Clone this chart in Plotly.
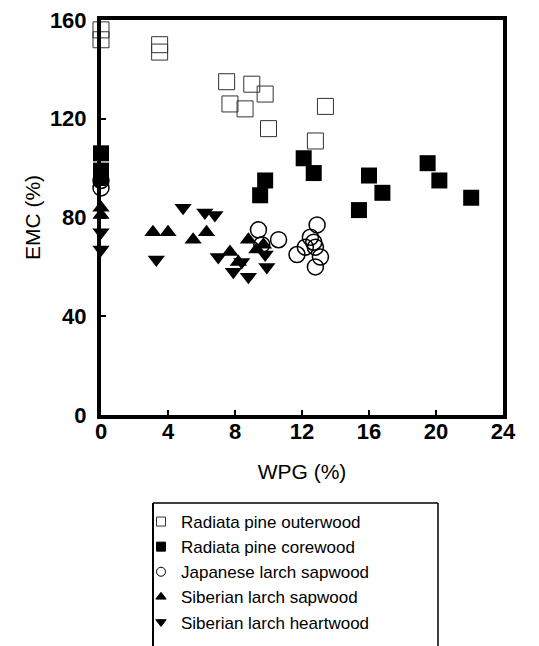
import plotly.graph_objects as go

# Radiata pine outerwood (open squares)
rpo_wpg = [0.0, 0.0, 3.5, 3.5, 7.5, 9.0, 9.8, 7.7, 8.6, 10.0, 13.4, 12.8]
rpo_emc = [156, 152, 150, 147, 135, 134, 130, 126, 124, 116, 125, 111]

# Radiata pine corewood (filled squares)
rpc_wpg = [0.0, 0.0, 0.0, 9.8, 9.5, 12.1, 12.7, 16.0, 16.8, 15.4, 19.5, 20.2, 22.1]
rpc_emc = [106, 99, 96, 95, 89, 104, 98, 97, 90, 83, 102, 95, 88]

# Japanese larch sapwood (open circles)
jls_wpg = [0.0, 0.0, 9.4, 10.6, 9.6, 12.9, 12.5, 12.2, 12.8, 11.7, 13.1, 12.8, 12.7]
jls_emc = [92, 95, 75, 71, 69, 77, 72, 68, 68, 65, 64, 60, 70]

# Siberian larch sapwood (up triangles)
sls_wpg = [0.0, 0.0, 3.1, 4.0, 5.5, 6.3, 8.8, 7.7, 8.2, 9.7, 9.3]
sls_emc = [84, 81, 74, 74, 71, 74, 71, 66, 62, 69, 67]

# Siberian larch heartwood (down triangles)
slh_wpg = [0.0, 0.0, 3.3, 4.9, 6.2, 6.8, 7.0, 7.9, 8.8, 9.8, 9.9, 8.4]
slh_emc = [74, 67, 63, 84, 82, 81, 64, 58, 56, 65, 60, 62]

x_ticks = [0, 4, 8, 12, 16, 20, 24]
y_ticks = [0, 40, 80, 120, 160]

series = [
    ("Radiata pine outerwood", rpo_wpg, rpo_emc, "square-open", 16, "#333333", 1),
    ("Radiata pine corewood", rpc_wpg, rpc_emc, "square", 16, "black", 0),
    ("Japanese larch sapwood", jls_wpg, jls_emc, "circle-open", 16, "black", 1.5),
    ("Siberian larch sapwood", sls_wpg, sls_emc, "triangle-up", 15, "black", 0),
    ("Siberian larch heartwood", slh_wpg, slh_emc, "triangle-down", 15, "black", 0),
]

fig = go.Figure()
for name, xs, ys, sym, size, col, lw in series:
    fig.add_trace(go.Scatter(
        x=xs, y=ys, mode="markers", name=name, showlegend=False,
        cliponaxis=False,
        marker=dict(symbol=sym, size=size, color=col, line=dict(color=col, width=lw)),
    ))
for name, xs, ys, sym, size, col, lw in series:
    fig.add_trace(go.Scatter(
        x=[None], y=[None], mode="markers", name=name, showlegend=True,
        marker=dict(symbol=sym, size=9, color=col, line=dict(color=col, width=1)),
    ))

tickfont = dict(family="Liberation Sans, Arial", size=22, color="black", weight="bold")
titlefont = dict(family="Liberation Sans, Arial", size=21, color="black")

fig.update_xaxes(
    range=[0, 24], tickvals=x_ticks, ticktext=[str(v) for v in x_ticks],
    showgrid=False, zeroline=False, showline=True, linecolor="black", linewidth=4,
    mirror=True, ticks="inside", ticklen=5, tickwidth=1.5, tickcolor="black",
    tickfont=tickfont, ticklabelstandoff=-6,
    title=dict(text="WPG (%)", font=titlefont, standoff=22),
)
fig.update_yaxes(
    range=[0, 160], tickvals=y_ticks, ticktext=[str(v) for v in y_ticks],
    showgrid=False, zeroline=False, showline=True, linecolor="black", linewidth=4,
    mirror=True, ticks="inside", ticklen=5, tickwidth=1.5, tickcolor="black",
    tickfont=tickfont, ticklabelstandoff=6,
    title=dict(text="EMC (%)", font=titlefont, standoff=5),
)

W, H = 539, 646
L, R, T, B = 101, 503, 20, 415
pw, ph = R - L, B - T

def px(xp):
    return (xp - L) / pw

def py(yp):
    return (B - yp) / ph

box_l, box_r, box_t, box_b = 153, 438, 503, 660
shapes = [
    dict(type="line", xref="paper", yref="paper", x0=px(box_l), x1=px(box_r), y0=py(box_t), y1=py(box_t),
         line=dict(color="black", width=1.5)),
    dict(type="line", xref="paper", yref="paper", x0=px(box_l), x1=px(box_l), y0=py(box_t), y1=py(box_b),
         line=dict(color="black", width=2)),
    dict(type="line", xref="paper", yref="paper", x0=px(box_r), x1=px(box_r), y0=py(box_t), y1=py(box_b),
         line=dict(color="black", width=1.5)),
]

fig.update_layout(
    width=W, height=H,
    margin=dict(l=L, r=W - R, t=T, b=H - B, autoexpand=False),
    paper_bgcolor="white", plot_bgcolor="white",
    shapes=shapes,
    legend=dict(
        x=px(141), y=py(504), xanchor="left", yanchor="top",
        bgcolor="rgba(0,0,0,0)", borderwidth=0,
        font=dict(family="Liberation Sans, Arial", size=17, color="black"),
        tracegroupgap=0,
    ),
)

fig.write_html("out.html")
